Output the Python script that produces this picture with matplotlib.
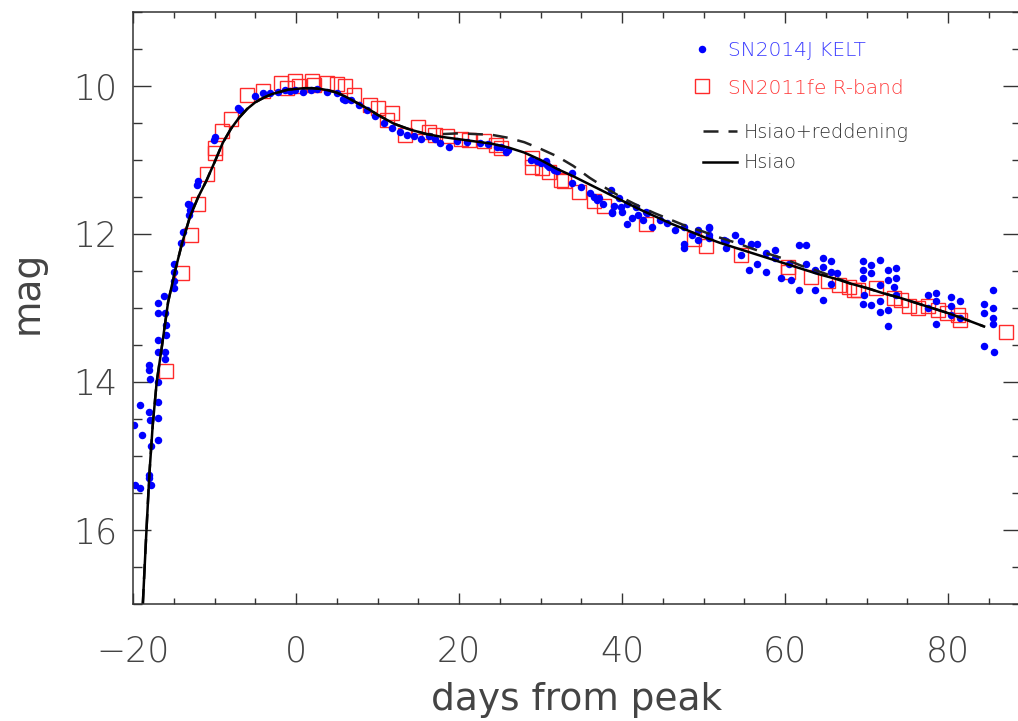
import matplotlib as mpl
mpl.rcParams.update({
    "font.family": ["DejaVu Sans"],
    "font.weight": "light",
    "axes.linewidth": 1.1,
    "axes.edgecolor": "#333333",
})
import matplotlib.pyplot as plt
from matplotlib.ticker import MultipleLocator
from matplotlib.lines import Line2D

# SN2014J KELT photometry (days from peak, mag)
kelt_day = [-19.9, -19.8, -19.1, -19.1, -18.9, -18.1, -18.1, -18.0, -18.0, -18.0,
            -17.9, -17.9, -17.8, -17.8, -17.0, -17.0, -17.0, -16.9, -16.9, -16.9,
            -16.9, -16.9, -16.2, -16.1, -16.1, -16.1, -15.9, -15.9, -15.0, -15.0,
            -15.0, -15.0, -14.1, -13.9, -13.1, -13.0, -13.2, -13.0, -12.2, -12.0,
            -10.1, -9.9, -7.1, -6.9, -5.0, -4.0, -3.2, -2.2, -1.3, -0.1,
            0.9, 2.6, 3.8, 5.0, 6.0, -0.8, 1.8,
            5.8, 6.7, 7.7, 8.7, 9.7, 10.8, 11.8, 12.8, 13.6, 15.3,
            16.3, 17.7, 18.7, 19.8, 22.6, 24.7, 25.1, 25.7, 28.8, 30.0,
            14.5, 17.0, 21.0, 23.5, 26.0, 29.5, 32.0, 35.0, 36.5, 37.6,
            39.0, 40.0, 41.2, 45.5, 46.5,
            30.6, 30.8, 31.0, 31.6, 33.8, 33.8, 36.1, 36.9, 37.1, 38.6,
            38.8, 38.8, 39.6, 39.8, 40.6, 40.6, 41.7, 41.9, 42.5, 42.9,
            43.1, 43.7, 44.7, 47.6, 47.6, 47.6, 48.6, 49.3, 49.3, 50.7,
            50.7, 50.7, 50.7, 52.5, 52.7, 52.7, 53.8, 54.6, 54.6, 55.6,
            55.8, 56.6, 56.6, 57.6, 57.6, 58.7, 58.7, 59.5, 60.5, 60.7,
            61.7, 62.5, 61.7, 62.5, 63.6, 63.6, 64.6, 64.6, 64.6, 65.6,
            65.6, 66.4, 65.6, 69.5, 69.5, 69.5, 69.7, 69.5, 70.5, 70.5,
            70.5, 71.6, 71.6, 71.6, 71.6, 72.6, 72.6, 72.6, 72.6, 73.6,
            73.6, 73.4, 73.6, 77.5, 77.5, 78.5, 78.5, 78.5, 80.4, 80.4,
            80.4, 81.4, 81.4, 84.4, 84.4, 85.5, 85.5, 85.5, 85.5, 84.4,
            85.6]
kelt_mag = [14.58, 15.39, 15.43, 14.31, 14.72, 13.77, 13.84, 14.40, 15.26, 15.30,
            13.96, 14.52, 14.86, 15.39, 13.07, 13.43, 13.59, 12.93, 14.00, 14.27,
            14.49, 14.78, 12.84, 13.07, 13.59, 13.69, 13.23, 13.36, 12.40, 12.51,
            12.64, 12.73, 12.12, 11.97, 11.74, 11.61, 11.59, 11.68, 11.34, 11.29,
            10.73, 10.69, 10.30, 10.32, 10.14, 10.10, 10.09, 10.08, 10.06, 10.06,
            10.08, 10.04, 10.08, 10.10, 10.19, 10.07, 10.05,
            10.17, 10.19, 10.26, 10.32, 10.41, 10.50, 10.57, 10.62, 10.66, 10.71,
            10.68, 10.77, 10.82, 10.75, 10.77, 10.82, 10.82, 10.89, 11.00, 11.04,
            10.68, 10.72, 10.76, 10.79, 10.86, 11.02, 11.15, 11.36, 11.50, 11.60,
            11.62, 11.70, 11.78, 11.85, 11.95,
            11.02, 11.07, 11.09, 11.14, 11.18, 11.31, 11.45, 11.54, 11.52, 11.41,
            11.70, 11.72, 11.52, 11.63, 11.59, 11.86, 11.63, 11.74, 11.81, 11.70,
            11.72, 11.90, 11.81, 11.90, 12.13, 12.19, 12.01, 11.95, 12.08, 11.92,
            12.06, 11.90, 12.01, 12.08, 12.10, 12.19, 12.01, 12.10, 12.28, 12.49,
            12.13, 12.13, 12.40, 12.26, 12.51, 12.33, 12.22, 12.60, 12.40, 12.62,
            12.15, 12.15, 12.76, 12.40, 12.49, 12.76, 12.33, 12.44, 12.89, 12.37,
            12.51, 12.53, 12.67, 12.37, 12.49, 12.60, 12.82, 12.94, 12.42, 12.53,
            12.96, 12.35, 12.69, 12.91, 13.05, 12.49, 12.62, 13.03, 13.25, 12.46,
            12.60, 12.71, 12.82, 12.82, 13.00, 12.80, 12.91, 13.21, 12.85, 12.98,
            13.09, 12.91, 13.14, 12.94, 13.07, 12.76, 13.00, 13.14, 13.21, 13.52,
            13.59]

# SN2011fe R-band (days from peak, mag)
fe_day = [-15.9, -14.0, -12.9, -12.0, -10.9, -9.9, -9.9, -9.1, -8.0, -6.0,
          -4.0, -1.9, -1.1, -0.1, 0.3, 2.0, 2.2, 3.8, 5.0, 6.0,
          7.1, 9.1, 10.1, 11.2, 11.8, 13.4, 15.0, 16.3, 17.1, 18.5,
          20.2, 21.2, 23.0, 24.5, 25.1, 29.0, 29.0, 30.2, 31.0, 32.5,
          32.9, 34.7, 36.6, 37.8, 42.9, 48.8, 50.3, 54.6, 60.3, 60.3,
          63.2, 65.2, 66.6, 67.8, 68.9, 68.5, 71.2, 73.4, 74.2, 75.2,
          76.3, 77.5, 78.8, 79.8, 81.2, 81.4, 87.1]
fe_mag = [13.85, 12.53, 12.01, 11.59, 11.19, 10.91, 10.84, 10.61, 10.45, 10.12,
          10.07, 9.96, 10.03, 9.93, 10.00, 9.93, 9.99, 9.96, 9.97, 10.00,
          10.12, 10.26, 10.30, 10.46, 10.37, 10.66, 10.55, 10.62, 10.66, 10.68,
          10.71, 10.73, 10.75, 10.80, 10.84, 10.98, 11.09, 11.11, 11.16, 11.27,
          11.29, 11.43, 11.56, 11.62, 11.87, 12.07, 12.16, 12.29, 12.44, 12.51,
          12.58, 12.64, 12.69, 12.71, 12.76, 12.76, 12.73, 12.87, 12.89, 12.98,
          13.00, 12.98, 13.03, 13.07, 13.09, 13.16, 13.32]

# Hsiao template, plain and with reddening
hsiao_day = [-18.8, -18.4, -18.0, -17.6, -17.1, -16.5, -15.7, -14.8, -14.0, -13.0,
             -12.0, -11.0, -10.0, -9.0, -8.0, -7.0, -6.0, -5.0, -4.0, -3.0,
             -2.0, -1.0, 0.0, 1.0, 2.0, 3.0, 4.0, 5.0, 6.0, 7.0,
             8.0, 9.0, 10.0, 11.0, 12.0, 13.0, 14.0, 15.0, 16.0, 17.0,
             18.0, 20.0, 22.0, 24.0, 26.0, 28.0, 30.0, 32.0, 34.0, 36.0,
             38.0, 40.0, 42.0, 44.0, 46.0, 48.0, 50.0, 52.0, 54.0, 56.0,
             58.0, 60.0, 62.0, 64.0, 66.0, 68.0, 70.0, 72.0, 74.0, 76.0,
             78.0, 80.0, 82.0, 84.4]
hsiao_mag = [17.0, 16.1, 15.25, 14.6, 14.0, 13.55, 12.92, 12.48, 12.13, 11.76,
             11.50, 11.28, 11.03, 10.77, 10.58, 10.43, 10.31, 10.22, 10.16, 10.11,
             10.08, 10.05, 10.04, 10.03, 10.03, 10.04, 10.06, 10.09, 10.14, 10.20,
             10.26, 10.32, 10.39, 10.45, 10.51, 10.55, 10.59, 10.62, 10.65, 10.67,
             10.69, 10.72, 10.75, 10.78, 10.83, 10.90, 11.00, 11.12, 11.22, 11.33,
             11.44, 11.55, 11.66, 11.76, 11.86, 11.95, 12.04, 12.12, 12.19, 12.26,
             12.33, 12.40, 12.47, 12.54, 12.60, 12.67, 12.73, 12.80, 12.86, 12.93,
             13.00, 13.07, 13.15, 13.25]
hsiao_red_mag = [17.0, 16.1, 15.25, 14.6, 14.0, 13.55, 12.92, 12.48, 12.13, 11.76,
                 11.50, 11.28, 11.03, 10.77, 10.58, 10.43, 10.31, 10.22, 10.16, 10.11,
                 10.08, 10.05, 10.04, 10.03, 10.03, 10.04, 10.06, 10.09, 10.14, 10.20,
                 10.26, 10.32, 10.39, 10.45, 10.51, 10.55, 10.59, 10.62, 10.65, 10.66,
                 10.65, 10.64, 10.65, 10.66, 10.70, 10.76, 10.85, 10.95, 11.08, 11.24,
                 11.38, 11.51, 11.62, 11.72, 11.81, 11.90, 11.97, 12.05, 12.12, 12.20,
                 12.27, 12.34, 12.43, 12.50, 12.58, 12.67, 12.73, 12.80, 12.86, 12.93,
                 13.00, 13.07, 13.15, 13.25]

fig = plt.figure(figsize=(10.18, 7.21), dpi=100)
ax = fig.add_axes([0.1307, 0.1623, 0.872, 0.8211])

ax.plot(fe_day, fe_mag, ls='none', marker='s', ms=9.5, mfc='none', mec='#ff2a2a', mew=1.0)
ax.plot(kelt_day, kelt_mag, ls='none', marker='o', ms=5.4, color='#0000ff', mec='none')
ax.plot(hsiao_day, hsiao_red_mag, color='#222222', lw=1.8, dashes=(6, 4))
ax.plot(hsiao_day, hsiao_mag, color='black', lw=1.8)

ax.set_xlim(-20, 88.9)
ax.set_ylim(17, 9)
ax.xaxis.set_major_locator(MultipleLocator(20))
ax.xaxis.set_minor_locator(MultipleLocator(5))
ax.yaxis.set_major_locator(MultipleLocator(2))
ax.yaxis.set_minor_locator(MultipleLocator(0.5))
ax.tick_params(which='both', direction='in', top=True, right=True, color='#333333', width=1.0)
ax.tick_params(axis='x', which='major', length=8, pad=22, labelsize=25, labelcolor='#444444')
ax.tick_params(axis='x', which='minor', length=4.3)
ax.tick_params(axis='y', which='major', length=13, pad=11, labelsize=25, labelcolor='#444444')
ax.tick_params(axis='y', which='minor', length=6.5)

ax.set_xlabel('days from peak', fontsize=27, color='#444444', labelpad=10)
ax.set_ylabel('mag', fontsize=27, color='#444444')
ax.yaxis.set_label_coords(-0.099, 0.527)

h1 = [Line2D([], [], ls='none', marker='o', ms=5.4, color='#0000ff', mec='none'),
      Line2D([], [], ls='none', marker='s', ms=9.5, mfc='none', mec='#ff2a2a', mew=1.0)]
leg1 = ax.legend(h1, ['SN2014J KELT', 'SN2011fe R-band'], loc='upper left',
                 bbox_to_anchor=(0.630, 0.951), frameon=False, fontsize=14.5,
                 handlelength=1.0, handletextpad=0.75, labelspacing=0.92,
                 borderpad=0, borderaxespad=0, labelcolor=['#3a3aff', '#ff3a3a'])
ax.add_artist(leg1)
h2 = [Line2D([], [], color='#222222', lw=1.8, dashes=(6, 4)),
      Line2D([], [], color='black', lw=1.8)]
ax.legend(h2, ['Hsiao+reddening', 'Hsiao'], loc='upper left',
          bbox_to_anchor=(0.6415, 0.8125), frameon=False, fontsize=13.8,
          handlelength=1.8, handletextpad=0.35, labelspacing=0.6,
          borderpad=0, borderaxespad=0, labelcolor='#333333')

plt.savefig('out.png', dpi=100)
